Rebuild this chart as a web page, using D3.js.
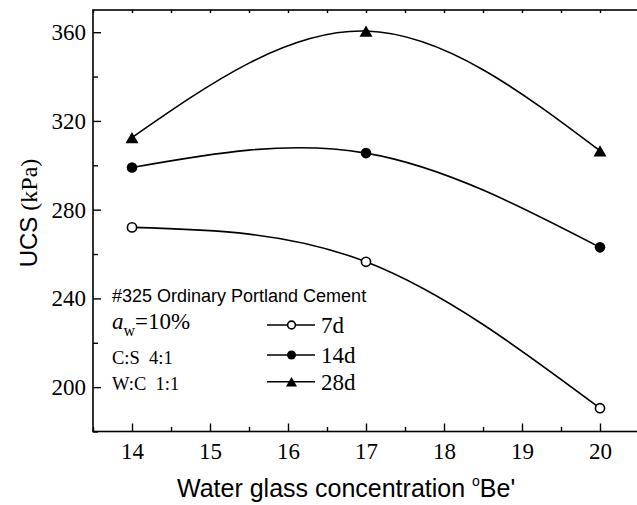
<!DOCTYPE html>
<html>
<head>
<meta charset="utf-8">
<script src="https://cdn.jsdelivr.net/npm/d3@7"></script>
<style>
  html, body { margin: 0; padding: 0; background: #fff; }
  svg { display: block; }
  text { fill: #000; }
</style>
</head>
<body>
<div id="chart"></div>
<script>
// Water glass concentration (°Be') and unconfined compressive strength (kPa)
const concentration = [14, 17, 20];
const ucs7d  = [272, 256.5, 190.5];
const ucs14d = [299, 305.5, 263];
const ucs28d = [312.5, 360.5, 306.5];

const seriesNames = ["7d", "14d", "28d"];
const xTicks = [14, 15, 16, 17, 18, 19, 20];
const yTicks = [200, 240, 280, 320, 360];

const W = 637, H = 505;
const serif = "'Liberation Serif', 'Times New Roman', serif";
const sans  = "'Liberation Sans', Arial, sans-serif";

const svg = d3.select("#chart").append("svg")
  .attr("width", W).attr("height", H);

const x = d3.scaleLinear().domain([13.5, 20.5]).range([93, 639]);
const y = d3.scaleLinear().domain([180, 370]).range([431.5, 10]);

const [x0, x1] = x.range();
const [yb, yt] = y.range();

// frame
svg.append("rect")
  .attr("x", x0).attr("y", yt)
  .attr("width", x1 - x0).attr("height", yb - yt)
  .attr("fill", "none").attr("stroke", "#000").attr("stroke-width", 1.6);

const minorX = d3.range(13.5, 20.51, 0.5).filter(v => !Number.isInteger(v));
const minorY = d3.range(180, 371, 20).filter(v => !yTicks.includes(v));

function styleAxis(g, fontSize) {
  g.select(".domain").remove();
  g.selectAll(".tick line").attr("stroke", "#000").attr("stroke-width", 1.4);
  g.selectAll(".tick text")
    .attr("font-family", serif).attr("font-size", fontSize).attr("fill", "#000");
}

// bottom axis: major ticks inward with labels, minor ticks inward
svg.append("g").attr("transform", `translate(0,${yb})`)
  .call(d3.axisBottom(x).tickValues(xTicks).tickSize(-8).tickPadding(11).tickFormat(d3.format("d")))
  .call(g => styleAxis(g, 23));
svg.append("g").attr("transform", `translate(0,${yb})`)
  .call(d3.axisBottom(x).tickValues(minorX).tickSize(-4.5).tickFormat(""))
  .call(g => styleAxis(g, 23));

// top axis: short ticks only
svg.append("g").attr("transform", `translate(0,${yt})`)
  .call(d3.axisTop(x).tickValues(xTicks.concat(minorX)).tickSize(-3).tickFormat(""))
  .call(g => styleAxis(g, 23));

// left axis
svg.append("g").attr("transform", `translate(${x0},0)`)
  .call(d3.axisLeft(y).tickValues(yTicks).tickSize(-8).tickPadding(7).tickFormat(d3.format("d")))
  .call(g => styleAxis(g, 23));
svg.append("g").attr("transform", `translate(${x0},0)`)
  .call(d3.axisLeft(y).tickValues(minorY).tickSize(-5).tickFormat(""))
  .call(g => styleAxis(g, 23));

// axis titles
const yTitle = svg.append("text")
  .attr("transform", `translate(37,213) rotate(-90)`)
  .attr("text-anchor", "middle")
  .attr("font-size", 24);
yTitle.append("tspan").attr("font-family", sans).text("UCS");
yTitle.append("tspan").attr("font-family", serif).text(" (kPa)");

const xTitle = svg.append("text")
  .attr("x", 177).attr("y", 497)
  .attr("font-family", sans).attr("font-size", 25);
xTitle.append("tspan").text("Water glass concentration ");
xTitle.append("tspan").attr("font-size", 14).attr("dy", -11).text("o");
xTitle.append("tspan").attr("dy", 11).text("Be'");

// curves
const series = [
  { name: seriesNames[0], values: ucs7d,  marker: "open" },
  { name: seriesNames[1], values: ucs14d, marker: "dot" },
  { name: seriesNames[2], values: ucs28d, marker: "tri" }
];

const line = d3.line()
  .x(d => x(d[0])).y(d => y(d[1]))
  .curve(d3.curveNatural);

function drawMarker(g, kind, cx, cy, scale) {
  const s = scale || 1;
  if (kind === "open") {
    g.append("circle").attr("cx", cx).attr("cy", cy).attr("r", 4.6 * s)
      .attr("fill", "#fff").attr("stroke", "#000").attr("stroke-width", 1.6);
  } else if (kind === "dot") {
    g.append("circle").attr("cx", cx).attr("cy", cy).attr("r", 5.3 * s)
      .attr("fill", "#000");
  } else {
    const hw = 6.5 * s, hh = 5.6 * s;
    g.append("path")
      .attr("d", `M${cx},${cy - hh}L${cx + hw},${cy + hh}L${cx - hw},${cy + hh}Z`)
      .attr("fill", "#000");
  }
}

series.forEach(s => {
  const pts = concentration.map((c, i) => [c, s.values[i]]);
  svg.append("path").datum(pts)
    .attr("d", line)
    .attr("fill", "none").attr("stroke", "#000").attr("stroke-width", 1.6);
  const mg = svg.append("g");
  pts.forEach(p => drawMarker(mg, s.marker, x(p[0]), y(p[1])));
});

// annotation text
svg.append("text").attr("x", 112).attr("y", 302)
  .attr("font-family", sans).attr("font-size", 18)
  .text("#325 Ordinary Portland Cement");

const aw = svg.append("text").attr("x", 112).attr("y", 329)
  .attr("font-family", serif).attr("font-size", 23);
aw.append("tspan").attr("font-style", "italic").text("a");
aw.append("tspan").attr("font-size", 16).attr("dy", 7).text("w");
aw.append("tspan").attr("dy", -7).text("=10%");

svg.append("text").attr("x", 112).attr("y", 364)
  .attr("font-family", serif).attr("font-size", 18.5)
  .style("white-space", "pre").text("C:S  4:1");
svg.append("text").attr("x", 112).attr("y", 390)
  .attr("font-family", serif).attr("font-size", 18.5)
  .style("white-space", "pre").text("W:C  1:1");

// legend
const legendY = [325, 355, 381.7];
series.forEach((s, i) => {
  const g = svg.append("g");
  g.append("line").attr("x1", 267).attr("x2", 315)
    .attr("y1", legendY[i]).attr("y2", legendY[i])
    .attr("stroke", "#000").attr("stroke-width", 1.6);
  drawMarker(g, s.marker, 291.5, legendY[i], 0.85);
  g.append("text").attr("x", 321).attr("y", legendY[i] + 8)
    .attr("font-family", serif).attr("font-size", 23)
    .text(s.name);
});
</script>
</body>
</html>
